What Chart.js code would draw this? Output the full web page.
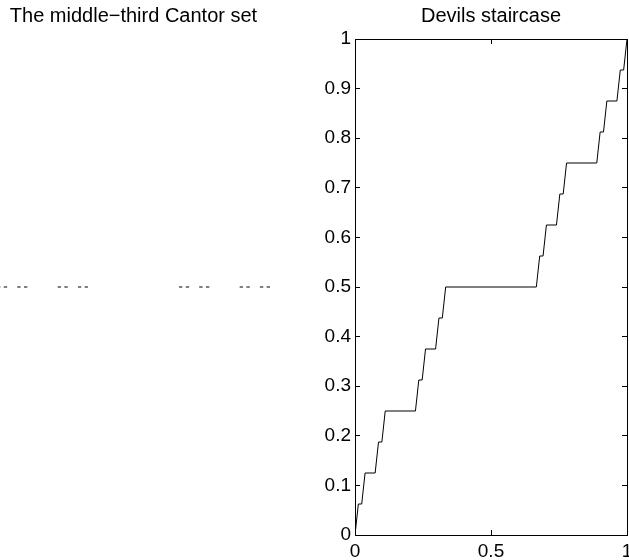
<!DOCTYPE html>
<html>
<head>
<meta charset="utf-8">
<title>Cantor set and Devils staircase</title>
<script src="https://cdn.jsdelivr.net/npm/chart.js@4.4.1/dist/chart.umd.min.js"></script>
<style>
  html, body { margin: 0; padding: 0; background: #fff; overflow: hidden; }
  #wrap { position: relative; width: 629px; height: 560px; overflow: hidden; }
  #cantorCanvas { position: absolute; left: -3px; top: 0; }
  #stairCanvas { position: absolute; left: 290px; top: 0; }
</style>
</head>
<body>
<div id="wrap">
  <canvas id="cantorCanvas" width="273" height="560"></canvas>
  <canvas id="stairCanvas" width="350" height="560"></canvas>
</div>
<script>
// level-4 middle-third Cantor set, intervals of length 1/81
const cantorStarts = [0, 0.0247, 0.0741, 0.0988, 0.2222, 0.2469, 0.2963, 0.3210,
  0.6667, 0.6914, 0.7407, 0.7654, 0.8889, 0.9136, 0.9630, 0.9877];
const cantorEnds = [0.0123, 0.0370, 0.0864, 0.1111, 0.2346, 0.2593, 0.3086, 0.3333,
  0.6790, 0.7037, 0.7531, 0.7778, 0.9012, 0.9259, 0.9753, 1];
const cantorLevel = 0.5;

// devils staircase corners
const stairX = [0, 0.0123, 0.0247, 0.0370, 0.0741, 0.0864, 0.0988, 0.1111,
  0.2222, 0.2346, 0.2469, 0.2593, 0.2963, 0.3086, 0.3210, 0.3333,
  0.6667, 0.6790, 0.6914, 0.7037, 0.7407, 0.7531, 0.7654, 0.7778,
  0.8889, 0.9012, 0.9136, 0.9259, 0.9630, 0.9753, 0.9877, 1];
const stairY = [0, 0.0625, 0.0625, 0.125, 0.125, 0.1875, 0.1875, 0.25,
  0.25, 0.3125, 0.3125, 0.375, 0.375, 0.4375, 0.4375, 0.5,
  0.5, 0.5625, 0.5625, 0.625, 0.625, 0.6875, 0.6875, 0.75,
  0.75, 0.8125, 0.8125, 0.875, 0.875, 0.9375, 0.9375, 1];

const xTicks = [0, 0.5, 1];
const yTicks = [0, 0.1, 0.2, 0.3, 0.4, 0.5, 0.6, 0.7, 0.8, 0.9, 1];

const titleLeft = 'The middle\u2212third Cantor set';
const titleRight = 'Devils staircase';

const FONT = '"Liberation Sans", Arial, Helvetica, sans-serif';

function titleOpts(text) {
  return {
    display: true,
    text: text,
    color: '#000',
    fullSize: false,
    font: { family: FONT, size: 20, weight: 'normal', lineHeight: 1.2 },
    padding: { top: 4.5, bottom: 10.5 },
  };
}

function fixedTicks(list) {
  return (scale) => {
    scale.ticks = list.map((v) => ({ value: v }));
  };
}

function fitTo(size) {
  return (scale) => {
    if (scale.isHorizontal()) scale.height = size;
    else scale.width = size;
    scale.paddingLeft = 0;
    scale.paddingRight = 0;
    scale.paddingTop = 0;
    scale.paddingBottom = 0;
  };
}

function boxAxis(position, list, size, showLabels, pad) {
  return {
    type: 'linear',
    position: position,
    min: 0,
    max: 1,
    afterBuildTicks: fixedTicks(list),
    afterFit: fitTo(size),
    border: { display: true, color: '#000', width: 1 },
    grid: { drawOnChartArea: false, drawTicks: true, tickLength: -5, color: '#000', lineWidth: 1 },
    ticks: {
      display: showLabels,
      color: '#000',
      padding: pad,
      font: { family: FONT, size: 19 },
      autoSkip: false,
      maxRotation: 0,
      callback: (v) => String(v),
    },
  };
}

Chart.defaults.animation = false;

// left panel: the Cantor set, axes hidden
const cantorData = [];
cantorStarts.forEach((s, i) => {
  cantorData.push({ x: s, y: cantorLevel });
  cantorData.push({ x: cantorEnds[i], y: cantorLevel });
  cantorData.push({ x: cantorEnds[i], y: null });
});

new Chart(document.getElementById('cantorCanvas'), {
  type: 'line',
  data: {
    datasets: [{
      data: cantorData,
      borderColor: '#000',
      borderWidth: 1,
      pointRadius: 0,
      spanGaps: false,
      tension: 0,
    }],
  },
  options: {
    responsive: false,
    layout: { padding: { top: 0, bottom: 25, left: 0, right: 0 } },
    plugins: { legend: { display: false }, tooltip: { enabled: false }, title: titleOpts(titleLeft) },
    scales: {
      x: { type: 'linear', min: 0, max: 1, display: false },
      y: { type: 'linear', min: 0, max: 1, display: false },
    },
  },
});

// right panel: the staircase, boxed axes with ticks inside
new Chart(document.getElementById('stairCanvas'), {
  type: 'line',
  data: {
    datasets: [{
      data: stairX.map((x, i) => ({ x: x, y: stairY[i] })),
      borderColor: '#000',
      borderWidth: 1,
      pointRadius: 0,
      tension: 0,
    }],
  },
  options: {
    responsive: false,
    layout: { padding: { top: 0, bottom: 0, left: 0, right: 13 } },
    plugins: { legend: { display: false }, tooltip: { enabled: false }, title: titleOpts(titleRight) },
    scales: {
      x: boxAxis('bottom', xTicks, 25, true, 10),
      x2: boxAxis('top', xTicks, 0, false, 0),
      y: boxAxis('left', yTicks, 65, true, 9),
      y2: boxAxis('right', yTicks, 0, false, 0),
    },
  },
});
</script>
</body>
</html>
